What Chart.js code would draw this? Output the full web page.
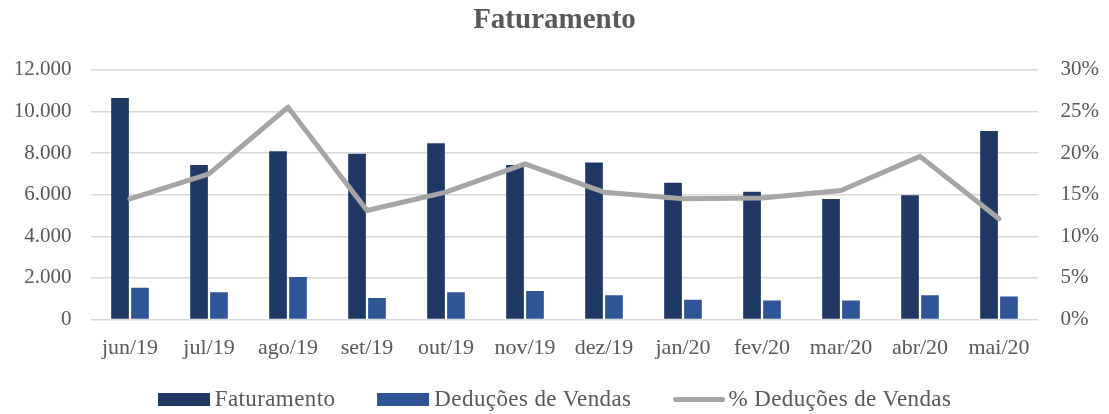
<!DOCTYPE html>
<html>
<head>
<meta charset="utf-8">
<script src="https://cdn.jsdelivr.net/npm/chart.js@4.4.1/dist/chart.umd.min.js"></script>
<style>
  html, body { margin: 0; padding: 0; background: #fff; }
  #wrap { position: relative; width: 1109px; height: 414px; }
  #legend {
    position: absolute; left: 0; top: 386px; width: 1109px;
    display: flex; justify-content: center; align-items: center;
    font-family: "Liberation Serif", serif; font-size: 23px; letter-spacing: 0.4px; color: #595959;
  }
  .item { display: flex; align-items: center; margin: 0 21px; }
  .box { width: 52px; height: 13px; margin-right: 5px; }
  .ln { width: 52px; height: 5px; border-radius: 3px; background: #a5a5a5; margin-right: 3px; }
</style>
</head>
<body>
<div id="wrap">
  <canvas id="chart" width="1109" height="414"></canvas>
  <div id="legend"></div>
</div>
<script>
var labels = ['jun/19','jul/19','ago/19','set/19','out/19','nov/19','dez/19','jan/20','fev/20','mar/20','abr/20','mai/20'];
var faturamento = [10640, 7430, 8090, 7970, 8470, 7420, 7540, 6570, 6140, 5790, 5970, 9060];
var deducoes = [1530, 1310, 2040, 1035, 1310, 1370, 1160, 955, 910, 910, 1160, 1100];
var pctDeducoes = [0.145, 0.175, 0.255, 0.131, 0.153, 0.187, 0.153, 0.145, 0.146, 0.155, 0.196, 0.121];

var darkBlue = '#203864';
var midBlue = '#2f5597';
var grey = '#a5a5a5';
var textColor = '#595959';
var serif = '"Liberation Serif", serif';

var legendItems = [
  { label: 'Faturamento', color: darkBlue, type: 'box' },
  { label: 'Deduções de Vendas', color: midBlue, type: 'box' },
  { label: '% Deduções de Vendas', color: grey, type: 'line' }
];

var html = '';
legendItems.forEach(function(it){
  html += '<div class="item"><div class="' + (it.type == 'box' ? 'box' : 'ln') + '" style="background:' + it.color + '"></div><span>' + it.label + '</span></div>';
});
document.getElementById('legend').innerHTML = html;

function fmtThousands(v){
  return String(v).replace(/\B(?=(\d{3})+(?!\d))/g, '.');
}

var ctx = document.getElementById('chart');
new Chart(ctx, {
  type: 'bar',
  data: {
    labels: labels,
    datasets: [
      {
        type: 'line',
        label: '% Deduções de Vendas',
        data: pctDeducoes,
        yAxisID: 'y2',
        borderColor: grey,
        backgroundColor: grey,
        borderWidth: 5,
        pointRadius: 0,
        tension: 0,
        borderCapStyle: 'round',
        borderJoinStyle: 'round',
        order: 0
      },
      {
        label: 'Faturamento',
        data: faturamento,
        yAxisID: 'y',
        backgroundColor: darkBlue,
        categoryPercentage: 0.505,
        barPercentage: 0.887,
        order: 1
      },
      {
        label: 'Deduções de Vendas',
        data: deducoes,
        yAxisID: 'y',
        backgroundColor: midBlue,
        categoryPercentage: 0.505,
        barPercentage: 0.887,
        order: 1
      }
    ]
  },
  options: {
    responsive: false,
    animation: false,
    layout: { padding: { left: 0, right: 0, top: 0, bottom: 0 } },
    plugins: {
      legend: { display: false },
      tooltip: { enabled: false },
      title: {
        display: true,
        text: 'Faturamento',
        color: textColor,
        font: { family: serif, size: 29, weight: 'bold' },
        padding: { top: 3, bottom: 32 }
      }
    },
    scales: {
      x: {
        grid: { display: false },
        border: { display: false },
        ticks: { color: textColor, font: { family: serif, size: 22 }, padding: 8, maxRotation: 0, autoSkip: false },
        afterFit: function(scale){ scale.height = 94.5; }
      },
      y: {
        position: 'left',
        min: 0, max: 12000,
        ticks: {
          stepSize: 2000, color: textColor, padding: 19,
          font: { family: serif, size: 21 },
          callback: function(v){ return fmtThousands(v); }
        },
        grid: { color: '#d9d9d9', lineWidth: 1.5, drawTicks: false },
        border: { display: false },
        afterFit: function(scale){ scale.width = 90.5; }
      },
      y2: {
        position: 'right',
        min: 0, max: 0.3,
        ticks: {
          stepSize: 0.05, color: textColor, padding: 14,
          font: { family: serif, size: 21 },
          callback: function(v){ return Math.round(v * 100) + '%'; }
        },
        grid: { display: false },
        border: { display: false },
        afterFit: function(scale){ scale.width = 70.5; }
      }
    }
  }
});
</script>
</body>
</html>
